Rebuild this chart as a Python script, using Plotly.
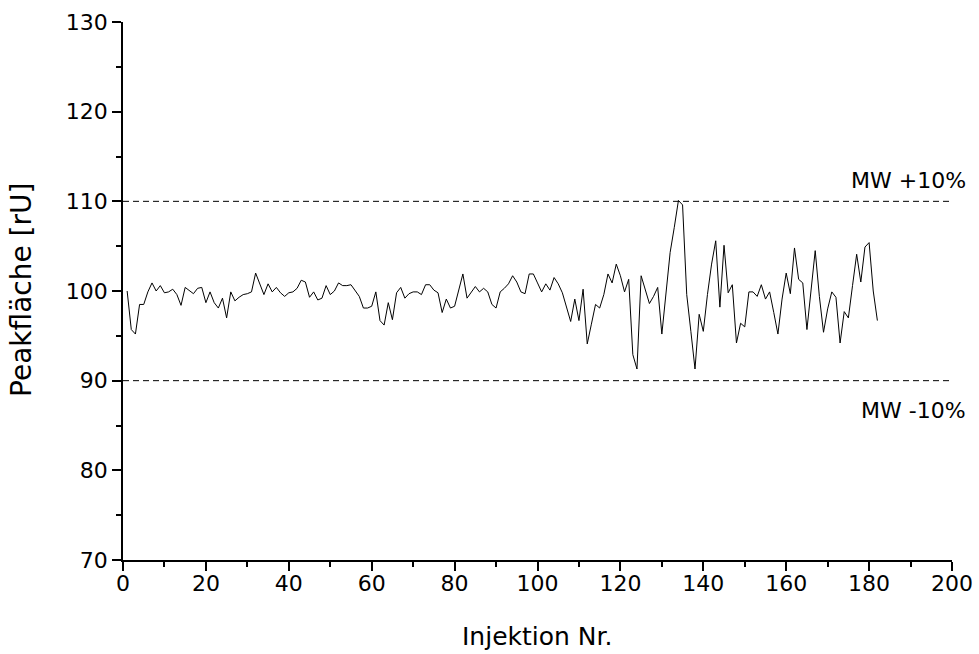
import plotly.graph_objects as go

injection = list(range(1, 183))
peak_area = [
    100.0, 95.7, 95.2, 98.5, 98.5, 99.9, 100.9, 100.0, 100.6, 99.8,
    99.9, 100.2, 99.6, 98.4, 100.4, 100.0, 99.7, 100.3, 100.4, 98.7,
    99.9, 98.7, 98.1, 99.2, 97.0, 99.9, 98.9, 99.3, 99.6, 99.7,
    99.9, 102.0, 100.7, 99.6, 100.8, 99.9, 100.4, 99.8, 99.4, 99.8,
    99.9, 100.3, 101.2, 101.0, 99.3, 99.9, 99.0, 99.2, 100.6, 99.6,
    100.0, 100.9, 100.6, 100.6, 100.7, 100.0, 99.4, 98.1, 98.1, 98.3,
    99.9, 96.7, 96.2, 98.7, 96.8, 99.8, 100.4, 99.2, 99.7, 99.9,
    99.9, 99.6, 100.7, 100.7, 100.1, 99.8, 97.6, 99.1, 98.1, 98.3,
    100.1, 101.9, 99.2, 99.8, 100.5, 99.9, 100.3, 99.9, 98.5, 98.1,
    99.9, 100.3, 100.8, 101.7, 101.0, 99.9, 99.7, 101.9, 101.9, 100.9,
    99.9, 100.8, 100.1, 101.5, 100.8, 99.8, 98.2, 96.6, 99.1, 96.7,
    100.2, 94.1, 96.3, 98.5, 98.1, 99.6, 101.9, 100.9, 103.0, 101.7,
    99.9, 101.3, 92.9, 91.3, 101.7, 100.0, 98.6, 99.4, 100.4, 95.2,
    100.0, 104.3, 107.1, 110.1, 109.6, 99.6, 95.5, 91.3, 97.4, 95.5,
    99.6, 103.0, 105.6, 98.2, 105.1, 99.8, 100.7, 94.2, 96.4, 96.0,
    99.9, 99.9, 99.4, 100.7, 99.1, 99.9, 97.6, 95.2, 99.1, 102.0,
    99.7, 104.8, 101.3, 100.9, 95.7, 100.2, 104.5, 99.4, 95.4, 98.0,
    99.9, 99.3, 94.2, 97.7, 97.0, 100.6, 104.1, 101.0, 104.9, 105.4,
    100.0, 96.7,
]
limit_values = [110, 90]
limit_labels = ["MW +10%", "MW -10%"]
x_ticks = [0, 20, 40, 60, 80, 100, 120, 140, 160, 180, 200]
y_ticks = [70, 80, 90, 100, 110, 120, 130]

FONT = "DejaVu Sans"

fig = go.Figure()
fig.add_trace(go.Scatter(x=injection, y=peak_area, mode="lines",
                         line=dict(color="black", width=1), showlegend=False,
                         hoverinfo="x+y"))

for v in limit_values:
    fig.add_shape(type="line", xref="x", yref="y", x0=0, x1=200, y0=v, y1=v,
                  line=dict(color="black", width=1, dash="6px,4px"))

fig.add_annotation(text=limit_labels[0], xref="paper", yref="paper", x=1.0193, y=0.7063,
                   xanchor="right", yanchor="middle", showarrow=False,
                   font=dict(family=FONT, size=22, color="black"))
fig.add_annotation(text=limit_labels[1], xref="paper", yref="paper", x=1.0193, y=0.2788,
                   xanchor="right", yanchor="middle", showarrow=False,
                   font=dict(family=FONT, size=22, color="black"))

fig.add_annotation(text="Injektion Nr.", xref="paper", yref="paper", x=0.5, y=-0.1413,
                   xanchor="center", yanchor="middle", showarrow=False,
                   font=dict(family=FONT, size=25, color="black"))
fig.add_annotation(text="Peakfläche [rU]", xref="paper", yref="paper", x=-0.1218, y=0.502,
                   xanchor="center", yanchor="middle", showarrow=False, textangle=-90,
                   font=dict(family=FONT, size=28, color="black"))

axis_common = dict(showgrid=False, zeroline=False, showline=True, linecolor="black",
                   linewidth=1.5, ticks="outside", ticklen=9, tickwidth=1.5,
                   tickcolor="black", automargin=False,
                   tickfont=dict(family=FONT, size=22, color="black"))

fig.update_xaxes(range=[0, 200], tickmode="array", tickvals=x_ticks,
                 ticktext=[str(t) for t in x_ticks], ticklabelstandoff=-6,
                 minor=dict(dtick=10, tick0=0, ticklen=5, tickwidth=1.5, tickcolor="black",
                            ticks="outside", showgrid=False),
                 **axis_common)
fig.update_yaxes(range=[70, 130], tickmode="array", tickvals=y_ticks,
                 ticktext=[str(t) for t in y_ticks],
                 minor=dict(dtick=5, tick0=70, ticklen=5, tickwidth=1.5, tickcolor="black",
                            ticks="outside", showgrid=False),
                 **axis_common)

fig.update_layout(width=979, height=654, autosize=False,
                  margin=dict(l=123, r=27, t=22, b=94),
                  paper_bgcolor="white", plot_bgcolor="white",
                  font=dict(family=FONT, color="black"))

fig.write_html("out.html", config={"displayModeBar": False},
               post_script="document.body.style.margin='0';document.body.style.overflow='hidden';")
